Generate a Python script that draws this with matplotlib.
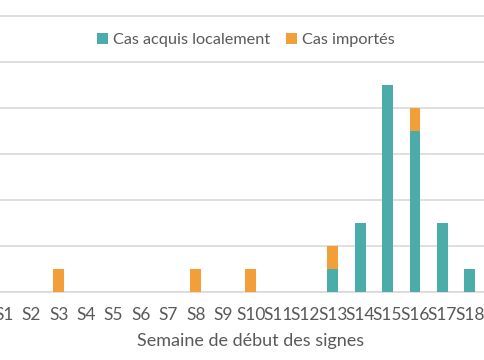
import numpy as np
import matplotlib.pyplot as plt

plt.rcParams['font.family'] = ['Lato', 'DejaVu Sans']

weeks = ['S%d' % i for i in range(1, 20)]
local = [0, 0, 0, 0, 0, 0, 0, 0, 0, 0, 0, 0, 1, 3, 9, 7, 3, 1, 0]
imported = [0, 0, 1, 0, 0, 0, 0, 1, 0, 1, 0, 0, 1, 0, 0, 1, 0, 0, 0]

TEAL = '#4bacaa'
ORANGE = '#f29f3a'
GREY = '#d9d9d9'
TEXT = '#595959'


def main():
    W, H = 485, 360
    fig = plt.figure(figsize=(W / 100, H / 100), dpi=100)
    base = 292
    ax = fig.add_axes([0, (H - base) / H, 1, base / H])

    x = np.arange(len(weeks))
    ax.bar(x, local, width=0.4, color=TEAL, label='Cas acquis localement', zorder=3)
    ax.bar(x, imported, width=0.4, bottom=local, color=ORANGE,
           label='Cas importés', zorder=3)

    ax.set_yticks(np.arange(0, 13, 2))
    ax.yaxis.grid(True, color=GREY, linewidth=1.2, zorder=0)
    ax.tick_params(axis='y', left=False, labelleft=False)
    ax.set_xticks(x)
    ax.set_xticklabels(weeks)
    ax.tick_params(axis='x', length=0, pad=11, labelsize=12.5, labelcolor=TEXT)

    # the reference is a crop: S1 sits at the left edge, S18 near the right
    unit = 23.0
    sp = 27.4
    ax.set_ylim(0, base / unit)
    ax.set_xlim(-4 / sp, (W - 4) / sp)

    for s in ['top', 'right', 'left']:
        ax.spines[s].set_visible(False)
    ax.spines['bottom'].set_color(GREY)
    ax.spines['bottom'].set_linewidth(1.2)

    fig.text(251 / W, 1 - 341 / H, 'Semaine de début des signes',
             ha='center', va='center', fontsize=13, color=TEXT)

    fig.legend(loc='center', bbox_to_anchor=(246 / W, 1 - 40 / H), ncol=2,
               frameon=False, fontsize=11.7, handlelength=0.65, handleheight=0.65,
               handletextpad=0.3, columnspacing=1.0, labelcolor=TEXT)

    plt.savefig('out.png', dpi=100)


if __name__ == '__main__':
    main()
